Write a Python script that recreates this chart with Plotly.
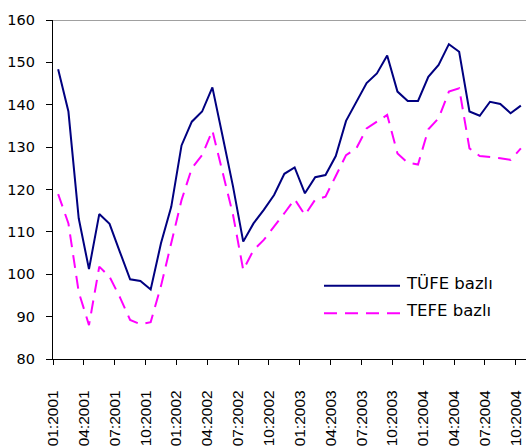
import plotly.graph_objects as go

# ---- data ----
tick_labels = ["01:2001", "04:2001", "07:2001", "10:2001",
               "01:2002", "04:2002", "07:2002", "10:2002",
               "01:2003", "04:2003", "07:2003", "10:2003",
               "01:2004", "04:2004", "07:2004", "10:2004"]

tufe = [148.4, 138.4, 113.2, 101.2, 114.2, 111.9, 105.3, 98.8, 98.4, 96.4,
        107.3, 115.9, 130.4, 136.0, 138.4, 144.1, 132.5, 120.8, 107.7, 112.0,
        115.2, 118.7, 123.7, 125.2, 119.1, 122.9, 123.4, 127.9, 136.2, 140.5,
        145.1, 147.4, 151.6, 143.1, 140.9, 140.9, 146.6, 149.4, 154.3, 152.5,
        138.4, 137.4, 140.7, 140.2, 138.0, 139.8]

tefe = [118.9, 112.0, 95.8, 88.0, 101.8, 99.4, 94.6, 89.2, 88.2, 88.7,
        97.2, 107.0, 117.5, 125.0, 128.1, 133.9, 124.0, 114.1, 101.0, 105.7,
        108.1, 111.2, 114.4, 117.7, 114.0, 117.6, 118.3, 123.2, 128.1, 129.7,
        134.4, 136.0, 137.6, 128.5, 126.3, 125.9, 134.2, 136.8, 143.1, 143.9,
        129.7, 127.9, 127.7, 127.4, 127.0, 129.7]

series_names = ["TÜFE bazlı", "TEFE bazlı"]

# ---- layout constants ----
W, H = 526, 446
L, R, T, B = 53, 0, 20, 87
NAVY = "#000080"
MAGENTA = "#FF00FF"
DASH = "13px,8px"

months = list(range(len(tufe)))
tick_pos = [m - 0.5 for m in months[::3]]

fig = go.Figure()
fig.add_trace(go.Scatter(x=months, y=tufe, mode="lines", name=series_names[0],
                         line=dict(color=NAVY, width=2), showlegend=False,
                         cliponaxis=False))
fig.add_trace(go.Scatter(x=months, y=tefe, mode="lines", name=series_names[1],
                         line=dict(color=MAGENTA, width=2, dash=DASH), showlegend=False,
                         cliponaxis=False))

fig.update_layout(
    width=W, height=H,
    margin=dict(l=L, r=R, t=T, b=B, autoexpand=False),
    paper_bgcolor="white", plot_bgcolor="white",
    showlegend=False,
    xaxis=dict(
        range=[-0.5, len(tufe) - 0.5],
        tickmode="array", tickvals=tick_pos, ticktext=tick_labels,
        tickangle=-90, automargin=False,
        ticks="outside", ticklen=5, tickcolor="black", tickwidth=1,
        showline=True, linecolor="black", linewidth=1.3,
        showgrid=False, zeroline=False,
        tickfont=dict(family="Liberation Sans, Arial", size=15.5, color="black"),
        ticklabelstandoff=19,
    ),
    yaxis=dict(
        range=[80, 160], dtick=10, tick0=80, automargin=False,
        ticks="outside", ticklen=6, tickcolor="black", tickwidth=1,
        showline=True, linecolor="black", linewidth=1.3,
        showgrid=False, zeroline=False,
        tickfont=dict(family="DejaVu Sans, Verdana", size=14.5, color="black"),
        ticklabelstandoff=8,
    ),
)

# top border line at 160
fig.add_shape(type="line", xref="paper", yref="y", x0=0, x1=1, y0=160, y1=160,
              line=dict(color="#808080", width=1.3))

# manual legend (line samples + real text)
pw = W - L - R
ph = H - T - B
def px(x):
    return (x - L) / pw
def py(y):
    return (H - B - y) / ph

leg = [(285.7, NAVY, "solid", series_names[0]), (313.3, MAGENTA, DASH, series_names[1])]
for yy, col, dash, txt in leg:
    fig.add_shape(type="line", xref="paper", yref="paper",
                  x0=px(324), x1=px(400), y0=py(yy), y1=py(yy),
                  line=dict(color=col, width=2, dash=dash))
    fig.add_annotation(xref="paper", yref="paper", x=px(404), y=py(yy - 2.5),
                       text=txt, showarrow=False, xanchor="left", yanchor="middle",
                       font=dict(family="DejaVu Sans, Verdana", size=16.5, color="black"))

fig.write_html("out.html", config={"displayModeBar": False},
               post_script="document.body.style.margin='0';document.body.style.overflow='hidden';")
